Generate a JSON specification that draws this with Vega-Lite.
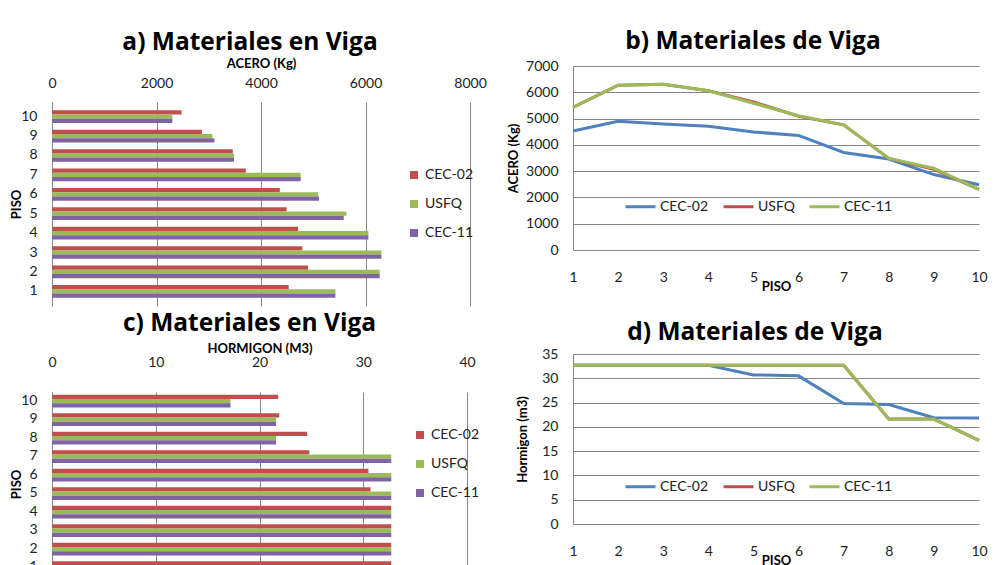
{
  "$schema": "https://vega.github.io/schema/vega-lite/v6.json",
  "background": "white",
  "padding": {"left": 10, "top": 1, "right": 5, "bottom": 0},
  "config": {
    "font": "Lato",
    "view": {"stroke": null},
    "title": {"fontSize": 24.5, "font": "Open Sans", "fontWeight": "bold", "color": "#000000", "frame": "group", "anchor": "middle"},
    "axis": {"labelFont": "Lato", "titleFont": "Lato", "labelColor": "#222222", "titleColor": "#000000", "titleFontWeight": "bold", "titleFontSize": 13, "labelFontSize": 14, "gridColor": "#868686", "gridOpacity": 1, "domainColor": "#868686", "ticks": false, "labelFlush": false},
    "legend": {"labelFont": "Lato", "labelFontSize": 14, "labelColor": "#222222", "padding": 0}
  },
  "datasets": {
    "acero": [
      {"piso": 1, "serie": "CEC-02", "valor": 4530}, {"piso": 2, "serie": "CEC-02", "valor": 4900}, {"piso": 3, "serie": "CEC-02", "valor": 4790}, {"piso": 4, "serie": "CEC-02", "valor": 4710}, {"piso": 5, "serie": "CEC-02", "valor": 4490}, {"piso": 6, "serie": "CEC-02", "valor": 4360}, {"piso": 7, "serie": "CEC-02", "valor": 3710}, {"piso": 8, "serie": "CEC-02", "valor": 3460}, {"piso": 9, "serie": "CEC-02", "valor": 2870}, {"piso": 10, "serie": "CEC-02", "valor": 2480},
      {"piso": 1, "serie": "USFQ", "valor": 5424}, {"piso": 2, "serie": "USFQ", "valor": 6272}, {"piso": 3, "serie": "USFQ", "valor": 6304}, {"piso": 4, "serie": "USFQ", "valor": 6055}, {"piso": 5, "serie": "USFQ", "valor": 5634}, {"piso": 6, "serie": "USFQ", "valor": 5091}, {"piso": 7, "serie": "USFQ", "valor": 4760}, {"piso": 8, "serie": "USFQ", "valor": 3483}, {"piso": 9, "serie": "USFQ", "valor": 3070}, {"piso": 10, "serie": "USFQ", "valor": 2304},
      {"piso": 1, "serie": "CEC-11", "valor": 5424}, {"piso": 2, "serie": "CEC-11", "valor": 6272}, {"piso": 3, "serie": "CEC-11", "valor": 6304}, {"piso": 4, "serie": "CEC-11", "valor": 6055}, {"piso": 5, "serie": "CEC-11", "valor": 5583}, {"piso": 6, "serie": "CEC-11", "valor": 5110}, {"piso": 7, "serie": "CEC-11", "valor": 4760}, {"piso": 8, "serie": "CEC-11", "valor": 3483}, {"piso": 9, "serie": "CEC-11", "valor": 3108}, {"piso": 10, "serie": "CEC-11", "valor": 2304}
    ],
    "hormigon": [
      {"piso": 1, "serie": "CEC-02", "valor": 32.7}, {"piso": 2, "serie": "CEC-02", "valor": 32.7}, {"piso": 3, "serie": "CEC-02", "valor": 32.7}, {"piso": 4, "serie": "CEC-02", "valor": 32.7}, {"piso": 5, "serie": "CEC-02", "valor": 30.7}, {"piso": 6, "serie": "CEC-02", "valor": 30.5}, {"piso": 7, "serie": "CEC-02", "valor": 24.8}, {"piso": 8, "serie": "CEC-02", "valor": 24.6}, {"piso": 9, "serie": "CEC-02", "valor": 21.9}, {"piso": 10, "serie": "CEC-02", "valor": 21.8},
      {"piso": 1, "serie": "USFQ", "valor": 32.7}, {"piso": 2, "serie": "USFQ", "valor": 32.7}, {"piso": 3, "serie": "USFQ", "valor": 32.7}, {"piso": 4, "serie": "USFQ", "valor": 32.7}, {"piso": 5, "serie": "USFQ", "valor": 32.7}, {"piso": 6, "serie": "USFQ", "valor": 32.7}, {"piso": 7, "serie": "USFQ", "valor": 32.7}, {"piso": 8, "serie": "USFQ", "valor": 21.6}, {"piso": 9, "serie": "USFQ", "valor": 21.6}, {"piso": 10, "serie": "USFQ", "valor": 17.2},
      {"piso": 1, "serie": "CEC-11", "valor": 32.7}, {"piso": 2, "serie": "CEC-11", "valor": 32.7}, {"piso": 3, "serie": "CEC-11", "valor": 32.7}, {"piso": 4, "serie": "CEC-11", "valor": 32.7}, {"piso": 5, "serie": "CEC-11", "valor": 32.7}, {"piso": 6, "serie": "CEC-11", "valor": 32.7}, {"piso": 7, "serie": "CEC-11", "valor": 32.7}, {"piso": 8, "serie": "CEC-11", "valor": 21.6}, {"piso": 9, "serie": "CEC-11", "valor": 21.6}, {"piso": 10, "serie": "CEC-11", "valor": 17.2}
    ]
  },
  "resolve": {"scale": {"color": "independent"}, "legend": {"color": "independent"}},
  "spacing": 20,
  "hconcat": [
    {
      "spacing": 4,
      "resolve": {"scale": {"color": "independent", "x": "independent", "y": "independent"}, "legend": {"color": "independent"}},
      "vconcat": [
        {"width": 10, "height": 25, "data": {"values": []}, "mark": {"type": "point", "opacity": 0}, "encoding": {}},
        {
          "width": 418, "height": 204,
          "title": {"text": "a) Materiales en Viga", "dx": -11, "offset": 2},
          "data": {"name": "acero"},
          "mark": {"type": "bar"},
          "encoding": {
            "y": {"field": "piso", "type": "ordinal", "sort": "descending", "scale": {"paddingInner": 0.345, "paddingOuter": 0.43}, "axis": {"title": "PISO", "labelPadding": 15, "titlePadding": -3, "grid": false, "domain": true, "labelAngle": 0}},
            "x": {"field": "valor", "type": "quantitative", "scale": {"domain": [0, 8000], "nice": false}, "axis": {"orient": "top", "values": [0, 2000, 4000, 6000, 8000], "format": "d", "title": "ACERO (Kg)", "domain": false, "labelPadding": 12, "titlePadding": 5.5, "grid": true}},
            "yOffset": {"field": "serie", "type": "nominal", "sort": ["CEC-02", "USFQ", "CEC-11"], "scale": {"paddingInner": 0, "paddingOuter": 0}},
            "color": {"field": "serie", "type": "nominal", "sort": ["CEC-02", "USFQ", "CEC-11"], "scale": {"domain": ["CEC-02", "USFQ", "CEC-11"], "range": ["#C0504D", "#9BBB59", "#8064A2"]},
              "legend": {"title": null, "orient": "none", "legendX": 355, "legendY": 66, "symbolType": "square", "symbolSize": 64, "symbolStrokeWidth": 0, "symbolOpacity": 1, "labelOffset": 4, "rowPadding": 15}}
          }
        },
        {
          "width": 415, "height": 184,
          "title": {"text": "c) Materiales en Viga", "dx": -10, "offset": 6},
          "data": {"name": "hormigon"},
          "mark": {"type": "bar"},
          "encoding": {
            "y": {"field": "piso", "type": "ordinal", "sort": "descending", "scale": {"paddingInner": 0.35, "paddingOuter": 0.15}, "axis": {"title": "PISO", "labelPadding": 15, "titlePadding": -3, "grid": false, "domain": true, "labelAngle": 0}},
            "x": {"field": "valor", "type": "quantitative", "scale": {"domain": [0, 40], "nice": false}, "axis": {"orient": "top", "values": [0, 10, 20, 30, 40], "title": "HORMIGON (M3)", "domain": false, "labelPadding": 23, "titlePadding": 0, "grid": true}},
            "yOffset": {"field": "serie", "type": "nominal", "sort": ["CEC-02", "USFQ", "CEC-11"], "scale": {"paddingInner": 0, "paddingOuter": 0}},
            "color": {"field": "serie", "type": "nominal", "sort": ["CEC-02", "USFQ", "CEC-11"], "scale": {"domain": ["CEC-02", "USFQ", "CEC-11"], "range": ["#C0504D", "#9BBB59", "#8064A2"]},
              "legend": {"title": null, "orient": "none", "legendX": 361, "legendY": 36, "symbolType": "square", "symbolSize": 64, "symbolStrokeWidth": 0, "symbolOpacity": 1, "labelOffset": 4, "rowPadding": 15}}
          }
        }
      ]
    },
    {
      "spacing": 26,
      "resolve": {"scale": {"color": "independent", "x": "independent", "y": "independent"}, "legend": {"color": "independent"}},
      "vconcat": [
        {"width": 10, "height": 1, "data": {"values": []}, "mark": {"type": "point", "opacity": 0}, "encoding": {}},
        {
          "width": 406, "height": 184,
          "title": {"text": "b) Materiales de Viga", "dx": -23, "offset": 5},
          "data": {"name": "acero"},
          "mark": {"type": "line", "strokeWidth": 3},
          "encoding": {
            "x": {"field": "piso", "type": "quantitative", "scale": {"domain": [1, 10], "nice": false}, "axis": {"values": [1, 2, 3, 4, 5, 6, 7, 8, 9, 10], "title": "PISO", "grid": false, "domain": false, "labelPadding": 20, "titlePadding": -4}},
            "y": {"field": "valor", "type": "quantitative", "scale": {"domain": [0, 7000], "nice": false}, "axis": {"values": [0, 1000, 2000, 3000, 4000, 5000, 6000, 7000], "format": "d", "title": "ACERO (Kg)", "grid": true, "domain": true, "labelPadding": 15, "titlePadding": 5}},
            "color": {"field": "serie", "type": "nominal", "sort": ["CEC-02", "USFQ", "CEC-11"], "scale": {"domain": ["CEC-02", "USFQ", "CEC-11"], "range": ["#4F81BD", "#C0504D", "#9BBB59"]},
              "legend": {"title": null, "orient": "none", "direction": "horizontal", "legendX": 51, "legendY": 124, "symbolType": "stroke", "symbolSize": 900, "symbolStrokeWidth": 3, "labelOffset": 3, "columnPadding": 8, "gridAlign": "each"}}
          }
        },
        {
          "width": 406, "height": 170,
          "title": {"text": "d) Materiales de Viga", "dx": -21, "offset": 2},
          "data": {"name": "hormigon"},
          "mark": {"type": "line", "strokeWidth": 3},
          "encoding": {
            "x": {"field": "piso", "type": "quantitative", "scale": {"domain": [1, 10], "nice": false}, "axis": {"values": [1, 2, 3, 4, 5, 6, 7, 8, 9, 10], "title": "PISO", "grid": false, "domain": false, "labelPadding": 20, "titlePadding": -4}},
            "y": {"field": "valor", "type": "quantitative", "scale": {"domain": [0, 35], "nice": false}, "axis": {"values": [0, 5, 10, 15, 20, 25, 30, 35], "title": "Hormigon (m3)", "grid": true, "domain": true, "labelPadding": 15, "titlePadding": 12}},
            "color": {"field": "serie", "type": "nominal", "sort": ["CEC-02", "USFQ", "CEC-11"], "scale": {"domain": ["CEC-02", "USFQ", "CEC-11"], "range": ["#4F81BD", "#C0504D", "#9BBB59"]},
              "legend": {"title": null, "orient": "none", "direction": "horizontal", "legendX": 51, "legendY": 116, "symbolType": "stroke", "symbolSize": 900, "symbolStrokeWidth": 3, "labelOffset": 3, "columnPadding": 8, "gridAlign": "each"}}
          }
        }
      ]
    }
  ]
}
